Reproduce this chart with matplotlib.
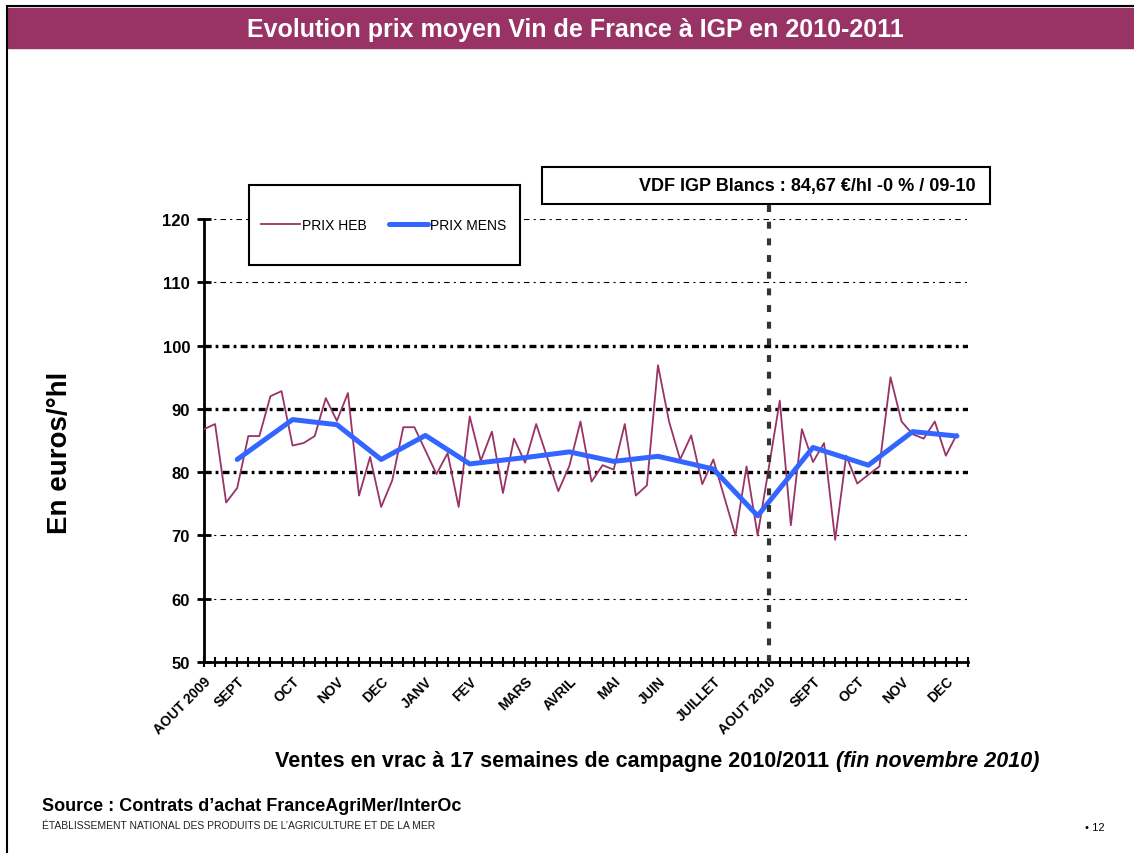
import matplotlib
matplotlib.use("Agg")
import matplotlib.pyplot as plt
import matplotlib.transforms as mtransforms
from matplotlib.patches import Rectangle
from matplotlib.lines import Line2D

plt.rcParams['font.family'] = ['Liberation Sans', 'DejaVu Sans']
plt.rcParams['lines.scale_dashes'] = False

# prix hebdomadaires (euros/hl), semaine 0 = aout 2009
prix_heb = [86.8, 87.6, 75.2, 77.5, 85.7, 85.7, 92.0, 92.8, 84.2, 84.6,
            85.7, 91.7, 88.1, 92.5, 76.3, 82.4, 74.5, 78.7, 87.1, 87.1,
            83.4, 79.7, 83.0, 74.5, 88.8, 81.8, 86.4, 76.7, 85.3, 81.5,
            87.6, 82.3, 77.0, 81.0, 88.0, 78.5, 81.1, 80.4, 87.6, 76.3,
            77.9, 96.9, 88.0, 82.0, 85.8, 78.1, 82.0, 76.0, 70.0, 80.9,
            70.0, 80.6, 91.3, 71.6, 86.8, 81.6, 84.6, 69.3, 82.6, 78.2,
            79.6, 80.9, 95.0, 88.0, 86.0, 85.3, 88.0, 82.6, 86.0]

# prix mensuels et semaine correspondante
semaines_mens = [3, 8, 12, 16, 20, 24, 29, 33, 37, 41, 46, 50, 55, 60, 64, 68]
prix_mens = [82.0, 88.3, 87.5, 82.0, 85.8, 81.3, 82.3, 83.2, 81.7, 82.5,
             80.5, 73.1, 83.9, 81.1, 86.4, 85.7]

# libelles de l'axe des x
mois = ['AOUT 2009', 'SEPT', 'OCT', 'NOV', 'DEC', 'JANV', 'FEV', 'MARS',
        'AVRIL', 'MAI', 'JUIN', 'JUILLET', 'AOUT 2010', 'SEPT', 'OCT', 'NOV', 'DEC']
semaine_mois = [0, 3, 8, 12, 16, 20, 24, 29, 33, 37, 41, 46, 51, 55, 59, 63, 67]
nb_semaines = 70
semaine_campagne = 51  # debut campagne 2010/2011

W, H = 1134, 854


def fx(px):
    return px / W


def fy(py):
    return 1 - py / H


fig = plt.figure(figsize=(11.34, 8.54), dpi=100)
ax = fig.add_axes([fx(204), fy(663), fx(968) - fx(204), fy(220) - fy(663)])

ax.plot(range(len(prix_heb)), prix_heb, color='#993366', lw=1.3,
        label='PRIX HEB', zorder=3)
ax.plot(semaines_mens, prix_mens, color='#3366FF', lw=3.6, label='PRIX MENS',
        zorder=4, solid_joinstyle='round', solid_capstyle='round')

ax.set_xlim(0, nb_semaines - 1)
ax.set_ylim(50, 120)
ax.set_yticks(range(50, 121, 10))
labels = [''] * nb_semaines
for i, m in zip(semaine_mois, mois):
    labels[i] = m
ax.set_xticks(range(nb_semaines))
ax.set_xticklabels(labels, rotation=45, ha='right', va='top',
                   rotation_mode='anchor', fontsize=10, fontweight='bold')
decal = mtransforms.ScaledTranslation(-4 / 100, -2 / 100, fig.dpi_scale_trans)
for t in ax.get_xticklabels():
    t.set_transform(t.get_transform() + decal)
for t in ax.get_yticklabels():
    t.set_fontweight('bold')

# lignes horizontales
for v in range(60, 121, 10):
    if 80 <= v <= 100:
        ax.axhline(v, color='black', lw=2.4, dashes=(5, 3, 2, 3), zorder=1)
    else:
        ax.axhline(v, color='black', lw=0.8, dashes=(4, 3, 1.5, 3), zorder=1)

# separation des campagnes
ax.axvline(semaine_campagne, ymin=0, ymax=1 + 15 / 443, color='#333333',
           lw=3, dashes=(5, 7), clip_on=False, zorder=5)

for s in ['top', 'right']:
    ax.spines[s].set_visible(False)
for s in ['left', 'bottom']:
    ax.spines[s].set_linewidth(2)
ax.tick_params(axis='y', direction='inout', length=10, width=2, labelsize=12, pad=5)
ax.tick_params(axis='x', direction='inout', length=7, width=1.5, pad=5)

# legende
fig.patches.append(Rectangle((fx(249), fy(266)), fx(520) - fx(249), 80 / H,
                             transform=fig.transFigure, facecolor='white',
                             edgecolor='black', lw=1.5, zorder=2))
h, l = ax.get_legend_handles_labels()
fig.legend(h, l, loc='center', bbox_to_anchor=(fx(384), fy(226)), frameon=False,
           ncol=2, fontsize=10, handlelength=2.8, handletextpad=0.15, columnspacing=1.6)

# encadre
fig.patches.append(Rectangle((fx(542), fy(205)), fx(990) - fx(542), 37 / H,
                             transform=fig.transFigure, facecolor='white',
                             edgecolor='black', lw=1.5, zorder=2))
fig.text(fx(976), fy(187), 'VDF IGP Blancs : 84,67 €/hl -0 % / 09-10',
         ha='right', va='center', fontsize=13, fontweight='bold', zorder=3)

# bandeau titre et bordures
fig.patches.append(Rectangle((fx(8), fy(49)), 1 - fx(8), 40 / H,
                             transform=fig.transFigure, color='#993366', zorder=1))
fig.text(fx(575), fy(30), 'Evolution prix moyen Vin de France à IGP en 2010-2011',
         ha='center', va='center', color='white', fontsize=18, fontweight='bold')
fig.add_artist(Line2D([fx(7), 1], [fy(7), fy(7)], color='black', lw=1.5))
fig.add_artist(Line2D([fx(7), fx(7)], [fy(7), 0], color='black', lw=1.5))

# titres des axes
fig.text(fx(60), fy(453), 'En euros/°hl', rotation=90, ha='center', va='center',
         fontsize=20, fontweight='bold')
t1 = fig.text(fx(275), fy(762), 'Ventes en vrac à 17 semaines de campagne 2010/2011',
              ha='left', va='center', fontsize=15.5, fontweight='bold')
ax.annotate('(fin novembre 2010)', xy=(1, 0.5), xycoords=t1, xytext=(5, 0),
            textcoords='offset points', ha='left', va='center', fontsize=15.5,
            fontweight='bold', style='italic', annotation_clip=False)

# source
fig.text(fx(42), fy(807), 'Source : Contrats d’achat FranceAgriMer/InterOc',
         ha='left', va='center', fontsize=13, fontweight='bold')
fig.text(fx(42), fy(826), 'ÉTABLISSEMENT NATIONAL DES PRODUITS DE L’AGRICULTURE ET DE LA MER',
         ha='left', va='center', fontsize=7.5, color='#222222')
fig.text(fx(1085), fy(828), '• 12', ha='left', va='center', fontsize=8)

fig.savefig('out.png', dpi=100)
